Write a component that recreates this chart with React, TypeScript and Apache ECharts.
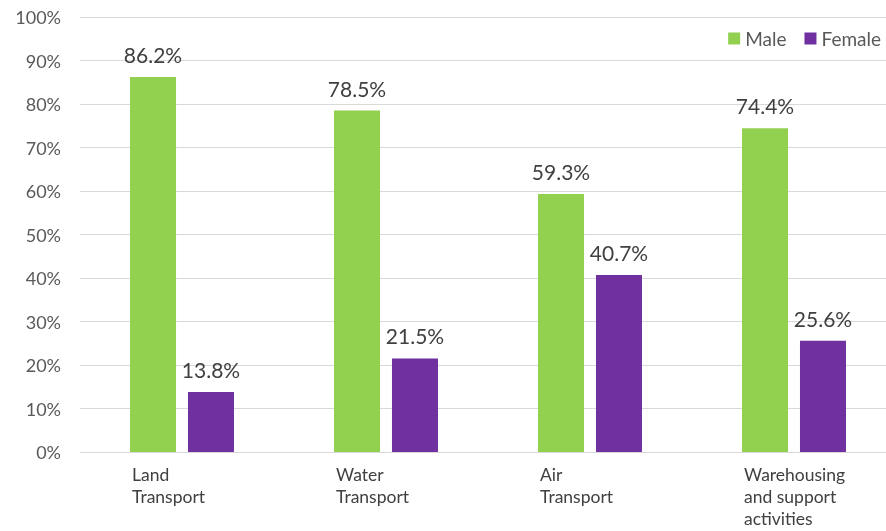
import React, { useEffect, useRef } from "react";
import * as echarts from "echarts";

const categories = ["Land\nTransport", "Water\nTransport", "Air\nTransport", "Warehousing\nand support\nactivities"];
const maleValues = [86.2, 78.5, 59.3, 74.4];
const femaleValues = [13.8, 21.5, 40.7, 25.6];
const yTicks = [0, 10, 20, 30, 40, 50, 60, 70, 80, 90, 100];

const FONT = "Lato, 'Open Sans', sans-serif";

export default function App() {
  const ref = useRef<HTMLDivElement>(null);
  useEffect(() => {
    if (!ref.current) return;
    const chart = echarts.init(ref.current, null, { renderer: "svg" });
    chart.setOption({
      animation: false,
      textStyle: { fontFamily: FONT },
      legend: {
        right: 0,
        top: 24,
        itemWidth: 12,
        itemHeight: 12,
        itemGap: 18,
        icon: "rect",
        textStyle: { fontSize: 19, color: "#595959", fontFamily: FONT },
        data: ["Male", "Female"],
      },
      grid: { left: 80, width: 816, top: 17, bottom: 79, outerBoundsMode: "none", containLabel: false },
      xAxis: {
        type: "category",
        data: categories,
        axisLine: { lineStyle: { color: "#d9d9d9" } },
        axisTick: { show: false },
        axisLabel: {
          margin: 11,
          formatter: (v: string) => `{a|${v}}`,
          rich: {
            a: { width: 100, align: "left", fontSize: 17.5, lineHeight: 22, color: "#404040", fontFamily: FONT },
          },
        },
      },
      yAxis: {
        type: "value",
        min: yTicks[0],
        max: yTicks[yTicks.length - 1],
        interval: 10,
        axisLine: { show: false },
        axisTick: { show: false },
        splitLine: { lineStyle: { color: "#d9d9d9" } },
        axisLabel: { formatter: "{value}%", fontSize: 18, color: "#595959", margin: 19, fontFamily: FONT },
      },
      series: [
        {
          name: "Male",
          type: "bar",
          data: maleValues,
          barWidth: 46,
          barGap: "26%",
          itemStyle: { color: "#92D050" },
          label: { show: true, position: "top", distance: 12, formatter: "{c}%", fontSize: 21, color: "#404040", fontFamily: FONT },
        },
        {
          name: "Female",
          type: "bar",
          data: femaleValues,
          barWidth: 46,
          itemStyle: { color: "#7030A0" },
          label: { show: true, position: "top", distance: 12, formatter: "{c}%", fontSize: 21, color: "#404040", fontFamily: FONT },
        },
      ],
    });
    return () => chart.dispose();
  }, []);
  return <div ref={ref} style={{ position: "fixed", left: 0, top: 0, width: 886, height: 531 }} />;
}
